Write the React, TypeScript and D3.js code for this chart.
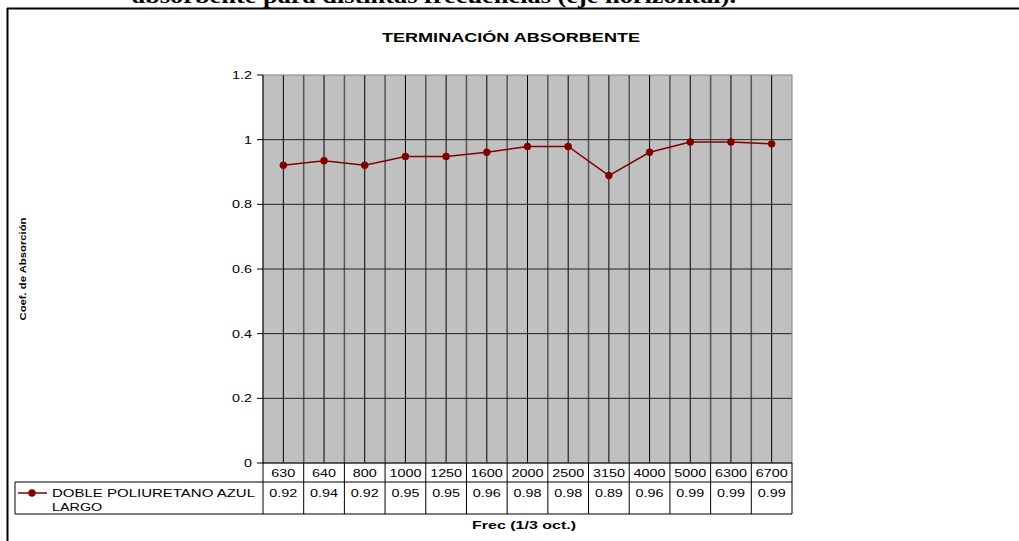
import React from "react";
import * as d3 from "d3";

const categories = ["630","640","800","1000","1250","1600","2000","2500","3150","4000","5000","6300","6700"];
const values = [0.921,0.935,0.921,0.948,0.948,0.961,0.979,0.979,0.889,0.961,0.993,0.993,0.987];
const valueLabels = ["0.92","0.94","0.92","0.95","0.95","0.96","0.98","0.98","0.89","0.96","0.99","0.99","0.99"];
const yTicks = [0,0.2,0.4,0.6,0.8,1,1.2];
const seriesName = ["DOBLE POLIURETANO AZUL","LARGO"];

const W = 1019, H = 541;
const L = 263, R = 792, T = 75, B = 463;
const row1B = 482, row2B = 514, tableL = 15;
const SANS = "'Liberation Sans', Arial, sans-serif";
const SERIF = "'Liberation Serif', 'Times New Roman', serif";
const LINE = "#800000";
const SX = 1.25;

function WideText({ x, y, anchor, size, children, bold }: any) {
  return (
    <text transform={`translate(${x},${y}) scale(${SX},1)`} textAnchor={anchor} fontFamily={SANS}
      fontSize={size} fontWeight={bold ? "bold" : "normal"}>{children}</text>
  );
}

export default function App() {
  const x = d3.scaleBand<string>().domain(categories).range([L, R]).padding(0);
  const y = d3.scaleLinear().domain([0, 1.2]).range([B, T]);
  const bw = x.bandwidth();
  const cx = (c: string) => (x(c) as number) + bw / 2;
  const line = d3.line<number>().x((_, i) => cx(categories[i])).y((v) => y(v));

  return (
    <svg width={W} height={H} style={{ position: "absolute", left: 0, top: 0, background: "#fff" }}>
      {/* document heading (cut off at top) */}
      <text x={434} y={3} textAnchor="middle" fontFamily={SERIF} fontWeight="bold" fontSize={20}
        textLength={604} lengthAdjust="spacingAndGlyphs">absorbente para distintas frecuencias (eje horizontal).</text>
      <line x1={7} x2={W} y1={8.5} y2={8.5} stroke="#000" strokeWidth={2} />
      <line x1={7.5} x2={7.5} y1={8} y2={H} stroke="#000" strokeWidth={2} />

      <text x={511} y={41.5} textAnchor="middle" fontFamily={SANS} fontWeight="bold" fontSize={13.5}
        textLength={258} lengthAdjust="spacingAndGlyphs">TERMINACIÓN ABSORBENTE</text>

      {/* plot area */}
      <rect x={L} y={T} width={R - L} height={B - T} fill="#c0c0c0" />
      {categories.map((c, i) => (
        <g key={"v" + c}>
          {i > 0 && <line x1={x(c) as number} x2={x(c) as number} y1={T} y2={B} stroke="#555" strokeWidth={1.5} />}
          <line x1={cx(c)} x2={cx(c)} y1={T} y2={B} stroke="#000" strokeWidth={1} />
        </g>
      ))}
      {yTicks.filter((t) => t > 0 && t < 1.2).map((t) => (
        <line key={"h" + t} x1={L} x2={R} y1={y(t)} y2={y(t)} stroke="#222" strokeWidth={1} />
      ))}
      <rect x={L} y={T} width={R - L} height={B - T} fill="none" stroke="#808080" strokeWidth={1} />

      {/* y axis */}
      <line x1={L} x2={L} y1={T} y2={B} stroke="#000" strokeWidth={1} />
      {yTicks.map((t) => (
        <g key={"yt" + t}>
          <line x1={L - 6} x2={L} y1={y(t)} y2={y(t)} stroke="#000" />
          <WideText x={252} y={y(t) + 4} anchor="end" size={11.5}>{t === 0 || t === 1 ? String(t) : t.toFixed(1)}</WideText>
        </g>
      ))}
      <text transform={`translate(26,269) rotate(-90)`} textAnchor="middle" fontFamily={SANS} fontWeight="bold" fontSize={9}
        textLength={103} lengthAdjust="spacingAndGlyphs">Coef. de Absorción</text>

      {/* series */}
      <path d={line(values) ?? ""} fill="none" stroke={LINE} strokeWidth={1.5} />
      {values.map((v, i) => (
        <circle key={"p" + i} cx={cx(categories[i])} cy={y(v)} r={3.7} fill={LINE} />
      ))}

      {/* data table */}
      <line x1={L} x2={R} y1={B} y2={B} stroke="#000" />
      <line x1={tableL} x2={R} y1={row1B} y2={row1B} stroke="#000" />
      <line x1={tableL} x2={R} y1={row2B} y2={row2B} stroke="#000" />
      <line x1={tableL} x2={tableL} y1={row1B} y2={row2B} stroke="#000" />
      {categories.map((c) => (
        <line key={"tv" + c} x1={x(c) as number} x2={x(c) as number} y1={B} y2={row2B} stroke="#000" />
      ))}
      <line x1={R} x2={R} y1={B} y2={row2B} stroke="#000" />
      {categories.map((c, i) => (
        <g key={"tt" + c}>
          <WideText x={cx(c)} y={477} anchor="middle" size={11.5}>{c}</WideText>
          <WideText x={cx(c)} y={497} anchor="middle" size={11.5}>{valueLabels[i]}</WideText>
        </g>
      ))}
      <line x1={18} x2={47} y1={493} y2={493} stroke={LINE} strokeWidth={1.5} />
      <circle cx={32} cy={493} r={3.7} fill={LINE} />
      <text x={52} y={497} fontFamily={SANS} fontSize={11.5} textLength={203} lengthAdjust="spacingAndGlyphs">{seriesName[0]}</text>
      <WideText x={52} y={511} anchor="start" size={11.5}>{seriesName[1]}</WideText>

      <text x={524} y={529} textAnchor="middle" fontFamily={SANS} fontWeight="bold" fontSize={10.5}
        textLength={104} lengthAdjust="spacingAndGlyphs">Frec (1/3 oct.)</text>
    </svg>
  );
}
